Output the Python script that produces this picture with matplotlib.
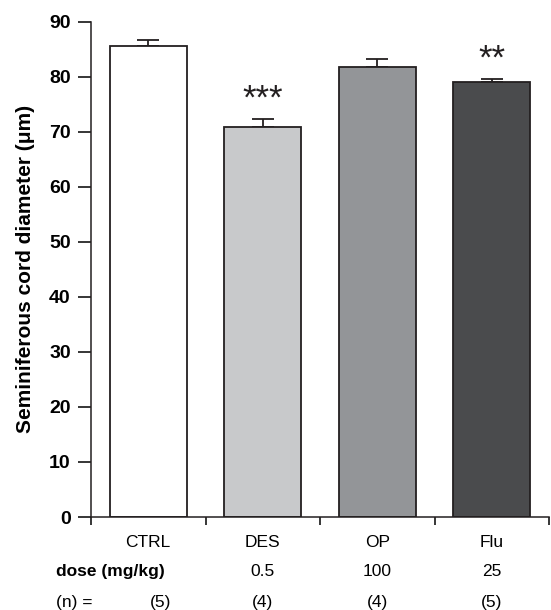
import numpy as np
import matplotlib.pyplot as plt
from matplotlib.ticker import FixedLocator

plt.rcParams['font.family'] = ['Liberation Sans', 'DejaVu Sans']

groups = ['CTRL', 'DES', 'OP', 'Flu']
doses = ['', '0.5', '100', '25']
n_animals = ['(5)', '(4)', '(4)', '(5)']
means = [85.5, 70.9, 81.8, 79.1]
sems = [1.1, 1.5, 1.4, 0.5]
stars = ['', '***', '', '**']
colors = ['#ffffff', '#c8c9cb', '#939598', '#4a4b4d']
edge = '#231f20'

fig = plt.figure(figsize=(5.51, 6.10), dpi=100)
ax = fig.add_axes([91/551, 93/610, 458/551, 495.3/610])

x = np.arange(len(groups)) + 0.5
ax.bar(x, means, width=0.67, color=colors, edgecolor=edge, linewidth=1.3, zorder=2)
ax.errorbar(x, means, yerr=[np.zeros(len(sems)), sems], fmt='none',
            ecolor=edge, elinewidth=1.3, capsize=8, capthick=1.3, zorder=1)

for xi, m, s, st in zip(x, means, sems, stars):
    if st:
        ax.text(xi, m + s + 3.6, st, ha='center', va='center', fontsize=25, color=edge)

ax.set_xlim(0, 4)
ax.set_ylim(0, 90)
ax.set_yticks(np.arange(0, 91, 10))
ax.tick_params(axis='y', length=9.5, width=1.1, pad=5, labelsize=14)
for lbl in ax.get_yticklabels():
    lbl.set_fontweight('bold')

ax.xaxis.set_major_locator(FixedLocator([0, 1, 2, 3, 4]))
ax.set_xticklabels([])
ax.xaxis.set_minor_locator(FixedLocator(x))
ax.set_xticklabels(groups, minor=True)
ax.tick_params(axis='x', which='major', length=6, width=1.1, direction='out')
ax.tick_params(axis='x', which='minor', length=0, pad=13, labelsize=12.5)

for side in ['top', 'right']:
    ax.spines[side].set_visible(False)
for side in ['left', 'bottom']:
    ax.spines[side].set_linewidth(1.1)
    ax.spines[side].set_color(edge)
ax.spines['left'].set_bounds(0, 90)

ax.set_ylabel('Seminiferous cord diameter (\u03bcm)', fontsize=15, fontweight='bold', labelpad=10)

tr = ax.get_xaxis_transform()
ax.text(-0.31, -0.111, 'dose (mg/kg)', transform=tr, ha='left', va='center',
        fontsize=12.5, fontweight='bold', clip_on=False)
ax.text(-0.31, -0.172, '(n) =', transform=tr, ha='left', va='center', fontsize=12.5, clip_on=False)
for i, (xi, d, n) in enumerate(zip(x, doses, n_animals)):
    if d:
        ax.text(xi, -0.111, d, transform=tr, ha='center', va='center', fontsize=12.5, clip_on=False)
    nx = 0.7 if i == 0 else xi
    ax.text(nx, -0.172, n, transform=tr, ha='right' if i == 0 else 'center', va='center',
            fontsize=12.5, clip_on=False)

fig.savefig('out.png', dpi=100)
